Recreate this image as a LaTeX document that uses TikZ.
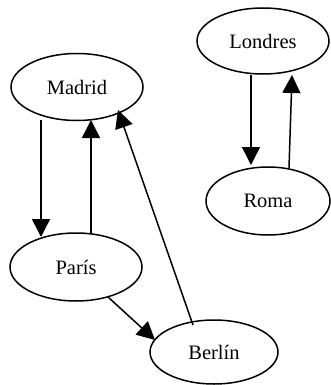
\documentclass[tikz,border=0pt]{standalone}
\usepackage{fontspec}
\setmainfont{Liberation Serif}
\usetikzlibrary{shapes.geometric,arrows.meta,calc}
\begin{document}
\begin{tikzpicture}[x=1pt,y=-1pt,
  city/.style={ellipse,draw,line width=1.5pt,inner sep=0pt,
    font=\fontsize{20.5}{24}\selectfont},
  link/.style={line width=1.5pt,-{Triangle[length=18pt,width=18pt]}}]
\useasboundingbox (0,0) rectangle (330,385);
\node[city,minimum width=132pt,minimum height=67pt] (madrid)  at (77,87)   {Madrid};
\node[city,minimum width=132pt,minimum height=68pt] (paris)   at (76,267)  {París};
\node[city,minimum width=128pt,minimum height=64pt] (berlin)  at (214,352) {Berlín};
\node[city,minimum width=132pt,minimum height=66pt] (londres) at (263,41)  {Londres};
\node[city,minimum width=124pt,minimum height=68pt] (roma)    at (268,201) {Roma};
\draw[link] ($(madrid)+(-36,33)$) -- ($(paris)+(-35,-30)$);
\draw[link] ($(paris)+(15,-34)$) -- ($(madrid)+(14,33)$);
\draw[link] ($(berlin)+(-21,-27)$) -- ($(madrid)+(41,23)$);
\draw[link] ($(paris)+(32,30)$) -- ($(berlin)+(-59,-12)$);
\draw[link] ($(londres)+(-12,34)$) -- ($(roma)+(-17,-36)$);
\draw[link] ($(roma)+(21,-33)$) -- ($(londres)+(29,34)$);
\end{tikzpicture}
\end{document}
